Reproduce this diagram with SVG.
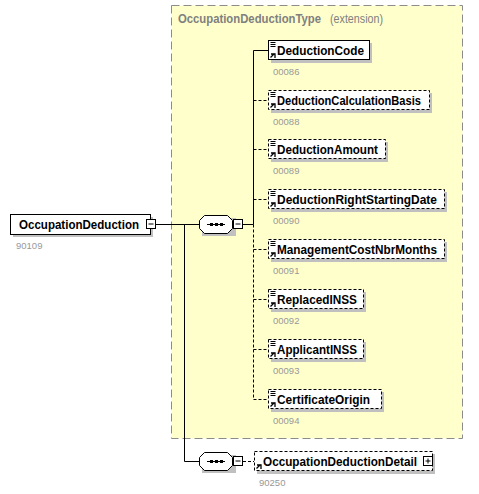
<svg xmlns="http://www.w3.org/2000/svg" width="479" height="494" viewBox="0 0 479 494">
<style>
.name{font-family:"Liberation Sans",Arial,sans-serif;font-weight:bold;font-size:12.5px;fill:#000}
.num{font-family:"Liberation Sans",Arial,sans-serif;font-size:9.5px;fill:#999}
.ttl{font-family:"Liberation Sans",Arial,sans-serif;font-size:12.5px;fill:#808080}
.box{fill:#fff;stroke:#000;stroke-width:1}
.opt{stroke-dasharray:3,2}
.sh{fill:#c0c0c0}
.ln{stroke:#000;stroke-width:1;fill:none}
.dl{stroke:#000;stroke-width:1;fill:none;stroke-dasharray:3,2}
</style>
<defs>
<g id="icons">
<path d="M2.5,2.5h5M2.5,4.5h5M2.5,6.5h5" stroke="#000" stroke-width="1"/>
<path d="M2.5,17.5l4,-4M3,14h4v4" stroke="#000" stroke-width="1.3" fill="none"/>
</g>
<g id="seq">
<rect x="3" y="3" width="34" height="18" class="sh"/>
<path d="M5.5,0.5h23l5,5v8l-5,5h-23l-5,-5v-8z" fill="#fff" stroke="#000"/>
<line x1="8" y1="9.5" x2="26" y2="9.5" stroke="#000"/>
<rect x="11" y="8" width="3" height="3" fill="#000"/>
<rect x="16" y="8" width="3" height="3" fill="#000"/>
<rect x="21" y="8" width="3" height="3" fill="#000"/>
<rect x="34.5" y="4.5" width="9" height="9" fill="#fff" stroke="#000"/>
<line x1="36.5" y1="9" x2="41.5" y2="9" stroke="#000"/>
</g>
</defs>

<g id="container">
<rect x="171.5" y="5.5" width="291" height="433" fill="#ffffcc" stroke="#8c8c8c" stroke-dasharray="8,4"/>
<text x="178" y="23" class="ttl" font-weight="bold" textLength="143" lengthAdjust="spacingAndGlyphs">OccupationDeductionType</text>
<text x="330" y="23" class="ttl" textLength="53" lengthAdjust="spacingAndGlyphs">(extension)</text>
</g>

<g id="connectors">
<line class="ln" x1="156" y1="224.5" x2="199" y2="224.5"/>
<polyline class="ln" points="184.5,224.5 184.5,461.5 199,461.5"/>
<line class="ln" x1="243" y1="224.5" x2="253.5" y2="224.5"/>
<polyline class="ln" points="253.5,224.5 253.5,50.5 268,50.5"/>
<line class="dl" x1="253.5" y1="224.5" x2="253.5" y2="399.5"/>
<line class="dl" x1="253.5" y1="100.5" x2="268" y2="100.5"/>
<line class="dl" x1="253.5" y1="149.5" x2="268" y2="149.5"/>
<line class="dl" x1="253.5" y1="199.5" x2="268" y2="199.5"/>
<line class="dl" x1="253.5" y1="249.5" x2="268" y2="249.5"/>
<line class="dl" x1="253.5" y1="299.5" x2="268" y2="299.5"/>
<line class="dl" x1="253.5" y1="349.5" x2="268" y2="349.5"/>
<line class="dl" x1="253.5" y1="399.5" x2="268" y2="399.5"/>
<line class="dl" x1="243" y1="461.5" x2="254" y2="461.5"/>
</g>

<g id="OccupationDeduction">
<rect x="13" y="217" width="140" height="20" class="sh"/>
<rect x="10.5" y="214.5" width="140" height="20" class="box"/>
<text x="19" y="229" class="name" textLength="120" lengthAdjust="spacingAndGlyphs">OccupationDeduction</text>
<rect x="146.5" y="219.5" width="9" height="9" fill="#fff" stroke="#000"/>
<line x1="148.5" y1="224" x2="153.5" y2="224" stroke="#000"/>
<text x="16" y="249" class="num">90109</text>
</g>

<g id="seq1"><use href="#seq" x="199" y="215"/></g>
<g id="seq2"><use href="#seq" x="199" y="452"/></g>

<g id="DeductionCode">
<rect x="271" y="43" width="101" height="20" class="sh"/>
<rect x="268.5" y="40.5" width="101" height="19" class="box"/>
<use href="#icons" x="268" y="40"/>
<text x="277" y="55" class="name" textLength="87" lengthAdjust="spacingAndGlyphs">DeductionCode</text>
<text x="273" y="75" class="num">00086</text>
</g>

<g id="DeductionCalculationBasis">
<rect x="271" y="93" width="161" height="20" class="sh"/>
<rect x="268.5" y="90.5" width="161" height="19" class="box opt"/>
<use href="#icons" x="268" y="90"/>
<text x="277" y="105" class="name" textLength="144" lengthAdjust="spacingAndGlyphs">DeductionCalculationBasis</text>
<text x="273" y="125" class="num">00088</text>
</g>

<g id="DeductionAmount">
<rect x="271" y="142" width="117" height="20" class="sh"/>
<rect x="268.5" y="139.5" width="117" height="19" class="box opt"/>
<use href="#icons" x="268" y="139"/>
<text x="277" y="154" class="name" textLength="101" lengthAdjust="spacingAndGlyphs">DeductionAmount</text>
<text x="273" y="174" class="num">00089</text>
</g>

<g id="DeductionRightStartingDate">
<rect x="271" y="192" width="176" height="20" class="sh"/>
<rect x="268.5" y="189.5" width="176" height="19" class="box opt"/>
<use href="#icons" x="268" y="189"/>
<text x="277" y="204" class="name" textLength="160" lengthAdjust="spacingAndGlyphs">DeductionRightStartingDate</text>
<text x="273" y="224" class="num">00090</text>
</g>

<g id="ManagementCostNbrMonths">
<rect x="271" y="242" width="176" height="20" class="sh"/>
<rect x="268.5" y="239.5" width="176" height="19" class="box opt"/>
<use href="#icons" x="268" y="239"/>
<text x="277" y="254" class="name" textLength="160" lengthAdjust="spacingAndGlyphs">ManagementCostNbrMonths</text>
<text x="273" y="274" class="num">00091</text>
</g>

<g id="ReplacedINSS">
<rect x="271" y="292" width="95" height="20" class="sh"/>
<rect x="268.5" y="289.5" width="95" height="19" class="box opt"/>
<use href="#icons" x="268" y="289"/>
<text x="277" y="304" class="name" textLength="80" lengthAdjust="spacingAndGlyphs">ReplacedINSS</text>
<text x="273" y="324" class="num">00092</text>
</g>

<g id="ApplicantINSS">
<rect x="271" y="342" width="95" height="20" class="sh"/>
<rect x="268.5" y="339.5" width="95" height="19" class="box opt"/>
<use href="#icons" x="268" y="339"/>
<text x="277" y="354" class="name" textLength="80" lengthAdjust="spacingAndGlyphs">ApplicantINSS</text>
<text x="273" y="374" class="num">00093</text>
</g>

<g id="CertificateOrigin">
<rect x="271" y="392" width="113" height="20" class="sh"/>
<rect x="268.5" y="389.5" width="113" height="19" class="box opt"/>
<use href="#icons" x="268" y="389"/>
<text x="277" y="404" class="name" textLength="93" lengthAdjust="spacingAndGlyphs">CertificateOrigin</text>
<text x="273" y="424" class="num">00094</text>
</g>

<g id="OccupationDeductionDetail">
<rect x="257" y="454" width="178" height="20" class="sh"/>
<rect x="254.5" y="451.5" width="178" height="19" class="box opt"/>
<path d="M256.5,468.5l4,-4M257,465h4v4" stroke="#000" stroke-width="1.3" fill="none"/>
<text x="263" y="466" class="name" textLength="154" lengthAdjust="spacingAndGlyphs">OccupationDeductionDetail</text>
<rect x="423.5" y="456.5" width="9" height="9" fill="#fff" stroke="#000"/>
<path d="M425.5,461h5M428,458.5v5" stroke="#000"/>
<text x="259" y="486" class="num">90250</text>
</g>
</svg>
